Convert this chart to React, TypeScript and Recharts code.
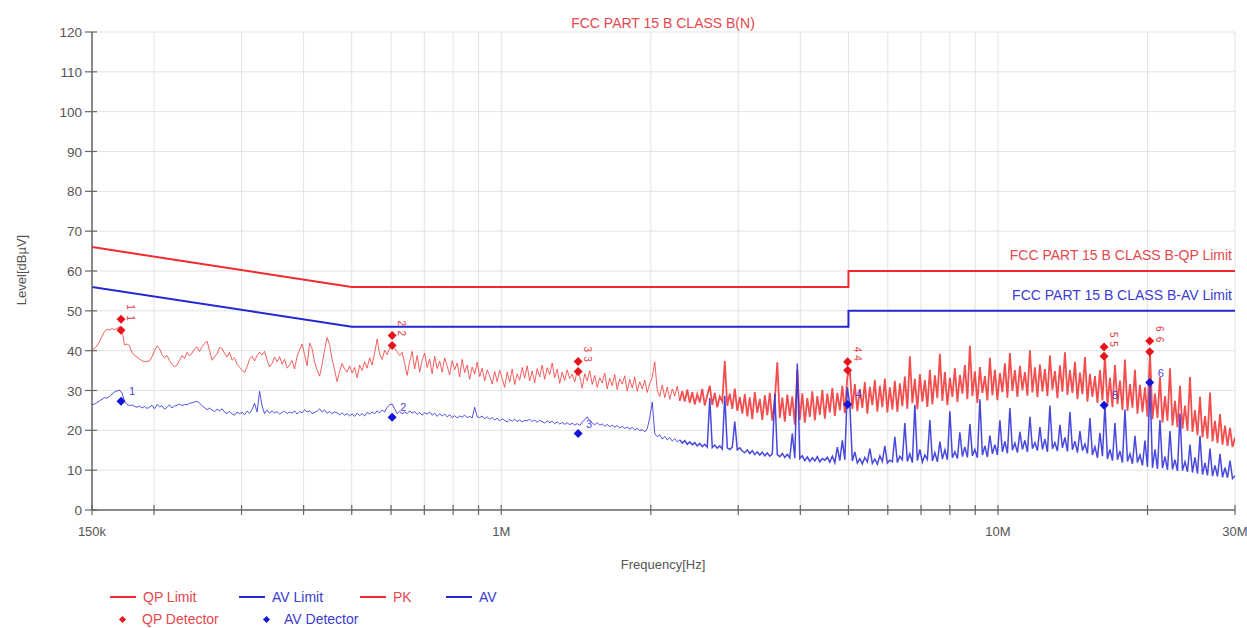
import React from 'react';
import { ComposedChart, Line, Scatter, XAxis, YAxis, CartesianGrid } from 'recharts';

// Receiver sweep settings (log sweep, one reading per step)
const START_HZ = 150e3;
const STOP_HZ = 30e6;

// Peak detector trace, dBµV, one value per sweep step
const PK_DB = [
  40.3, 40.6, 41.2, 42.3, 43.6, 44.8, 45.4, 45.2, 45.5, 45.3, 45.6, 46.0, 45.1, 41.4, 41.7, 41.2, 39.6, 38.8, 38.4, 37.9,
  37.5, 37.2, 37.3, 37.4, 38.5, 40, 41.2, 40.5, 39, 38.2, 38.8, 37.5, 36.5, 36, 36.4, 37.6, 38.8, 38, 39.6, 38.7,
  39.4, 40.5, 40.9, 39.8, 41, 41.8, 42.4, 40, 37.6, 38.5, 39.2, 40.8, 40.5, 39.3, 38.4, 39.6, 37.6, 38.2, 36.6, 35.8,
  35.2, 34.5, 36, 37.8, 38.6, 37.4, 38.8, 39.6, 38.9, 39.8, 37.6, 35.9, 36.8, 38.4, 37.2, 38.5, 36.6, 37.8, 35.6, 36.4,
  37.5, 35.4, 38.6, 40.2, 41.7, 39, 36.2, 41.9, 40.5, 37.2, 35.1, 33.6, 36.5, 40.2, 43.3, 41.5, 37.8, 35.2, 32.2, 34.8,
  36.8, 35.4, 34.6, 36.2, 34.4, 35.8, 33.2, 36.4, 35, 37.2, 35.6, 38.2, 36.4, 39.4, 42.9, 39.2, 37.8, 40.1, 39, 40.6,
  41.3, 40.6, 39.7, 38.8, 39.6, 36.8, 33.8, 37.2, 39.8, 35.4, 38.8, 34.6, 37.6, 39.4, 35.8, 37.9, 34.2, 38.6, 35.5, 37.4,
  34.6, 38.2, 36.1, 33.9, 37.5, 35.2, 36.9, 33.4, 37.8, 34.5, 36.4, 32.8, 35.9, 34.1, 37.1, 33.5, 35.6, 32.4, 35.2, 33.7,
  31.6, 34.8, 32.2, 35.1, 33, 30.8, 34.6, 32.1, 35.4, 31.5, 34.2, 32.6, 35.8, 33.1, 36.2, 32.4, 34.9, 31.9, 35.5, 33.4,
  36.4, 32.8, 35.7, 34, 36.9, 33.2, 35.4, 31.8, 34.6, 32.5, 35.2, 33, 34.1, 32.2, 34.8, 33.5, 30.6, 34.2, 32.4, 35,
  31.5, 33.8, 30.8, 33.2, 31.9, 34.4, 30.4, 33.1, 31.2, 34, 30.2, 32.9, 31.6, 33.7, 29.9, 32.8, 30.6, 33.4, 29.8, 32.2,
  30.4, 32.6, 29.5, 31.8, 33.2, 37.2, 30.1, 28.5, 31.4, 28.2, 30.9, 27.8, 30.4, 28.6, 31.1, 27.4, 29.8, 27.2, 30.2, 26.9,
  29.6, 26.5, 29.1, 27, 30.4, 26.2, 28.8, 31.2, 26.4, 29.4, 25.8, 28.5, 27.2, 37.4, 26.1, 29.2, 25.4, 30.5, 24.9, 28.4,
  24.2, 29.1, 23.5, 28.3, 22.8, 29.6, 24.4, 27.9, 22.6, 28.8, 23.8, 29.4, 22.4, 27.6, 37.1, 23.1, 28.2, 22.2, 29, 23.6,
  28.5, 21.4, 35.2, 22.6, 29.3, 21.9, 28.1, 23.4, 29.8, 22.5, 28.6, 23.9, 30.1, 22.9, 29.2, 24.5, 30.6, 23.6, 29.4, 25,
  31.2, 24.3, 33.4, 35.1, 25.4, 31.6, 24.8, 30.4, 25.6, 32.1, 24.2, 30.9, 26.3, 32.6, 24.7, 31.2, 25.8, 33, 24.5, 30.8,
  25.2, 32.4, 24.6, 31.8, 26.1, 33.5, 25.4, 38.6, 26.8, 32.9, 25.3, 34.1, 27.2, 32.6, 25.9, 35.2, 26.5, 33.8, 28.1, 39.2,
  27.4, 34.6, 26.3, 33.2, 28.4, 35.6, 27.1, 33.9, 29.2, 36.4, 27.8, 41.2, 28.6, 34.8, 26.9, 35.9, 29.4, 33.6, 27.5, 38.2,
  28.8, 35.2, 27.6, 34.4, 29.6, 36.8, 28.2, 39.4, 29.9, 35.1, 28.4, 36.2, 30.1, 34.6, 28.7, 40.1, 29.5, 35.8, 28.3, 36.5,
  29.8, 35.4, 28.6, 38.8, 30.2, 34.9, 28.1, 36.3, 29.7, 39.6, 28.9, 35.1, 29.4, 37.2, 27.8, 34.5, 29.1, 38.4, 27.2, 34.2,
  28.4, 33.6, 26.9, 35.1, 27.5, 38.6, 26.4, 33.2, 25.8, 36.4, 26.6, 32.5, 25.1, 37.8, 24.9, 31.6, 25.7, 35.2, 24.2, 31.4,
  24.6, 30.8, 23.4, 39.7, 22.8, 29.2, 23.1, 33.4, 21.9, 28.6, 22.4, 35.6, 21.2, 27.4, 20.8, 31.2, 20.4, 26.2, 19.9, 33.4,
  19.6, 25.1, 18.8, 28.4, 18.2, 23.6, 17.9, 29.5, 17.2, 22.4, 16.8, 24.1, 16.4, 21.2, 16.1, 20.6, 15.8, 18.2,
];

// Average detector trace, dBµV, same sweep steps
const AV_DB = [
  26.4, 26.6, 27, 27.4, 27.8, 28.2, 28.1, 28.5, 29.1, 29.6, 29.9, 30.1, 29.4, 27.2, 26.5, 26.2, 26.4, 26, 25.8, 26.1,
  25.6, 26, 25.5, 25.8, 26.3, 25.4, 26.5, 25.9, 26.2, 25.3, 25.8, 26.4, 25.6, 26.1, 26.3, 26.6, 26.2, 26.5, 26.4, 26.8,
  26.9, 27.1, 27.3, 26.8, 26.2, 25.7, 25.2, 25.6, 25.1, 24.7, 25.3, 24.9, 25.4, 24.6, 24.2, 24.8, 24.1, 23.8, 24.6, 24.2,
  24.5, 23.9, 24.8, 24.3, 25.2, 26.8, 24.6, 29.8, 26.1, 24.2, 25.1, 24.3, 24.9, 24.4, 24.7, 24.1, 24.5, 24.8, 24.2, 24.6,
  24.3, 24.9, 24.1, 24.7, 24.4, 25.2, 24.6, 24.9, 24.2, 24.5, 24.8, 25.4, 24.6, 25.1, 24.3, 24.7, 24.2, 24.6, 24.4, 23.9,
  24.4, 23.8, 24.2, 23.6, 24.1, 23.5, 24.3, 23.7, 24.2, 23.6, 24.5, 24.1, 24.6, 24.2, 24.9, 24.4, 25.1, 24.6, 25.8, 26.4,
  26.6, 25.4, 24.2, 24.8, 24.1, 24.6, 24.2, 24.9, 24.3, 24.7, 24, 24.5, 23.8, 24.4, 24.1, 24.6, 23.8, 24.3, 23.5, 24.2,
  23.6, 24.1, 23.4, 23.9, 23.2, 23.7, 23.1, 23.6, 23.3, 23.8, 23.2, 23.5, 23.1, 25.8, 23.4, 23.2, 23.6, 22.9, 23.4, 22.8,
  23.2, 22.6, 23, 22.4, 22.9, 22.5, 22.1, 22.7, 22.3, 22.8, 22.2, 22.6, 22.1, 22.5, 22.4, 22.8, 22.2, 22.6, 22, 22.5,
  22.2, 21.8, 22.4, 21.9, 22.3, 21.7, 22.1, 21.6, 22, 21.5, 21.9, 21.4, 21.8, 21.3, 21.7, 21.2, 22.1, 22.6, 23.4, 22.4,
  21.8, 21.4, 21.9, 21.3, 21.6, 21, 21.5, 20.9, 21.3, 20.8, 21.2, 20.6, 21, 20.5, 20.8, 20.3, 20.7, 20.1, 20.5, 19.9,
  20.2, 19.6, 20.4, 23.2, 27.1, 19.2, 18.4, 18.9, 17.8, 18.5, 17.6, 18.2, 17.3, 17.9, 17.1, 17.6, 16.8, 17.4, 16.5, 17.1,
  16.4, 16.9, 16.1, 16.7, 15.9, 16.5, 15.8, 28.1, 15.7, 16.3, 15.5, 16.1, 15.3, 28.7, 15.6, 15.2, 15.8, 22.2, 15.1, 15.6,
  14.8, 14.4, 15.1, 14.2, 14.9, 13.9, 14.6, 13.8, 14.5, 13.6, 14.3, 13.5, 14.1, 29.2, 13.9, 13.4, 14.2, 13.2, 14, 13.1,
  19.2, 13, 36.8, 12.9, 13.6, 12.4, 13.3, 12.2, 13.1, 12.3, 13.4, 12.1, 12.9, 12.5, 13.2, 12, 13.5, 11.9, 15.8, 12.4,
  17.5, 12.6, 30.8, 26.5, 12.3, 14.6, 11.8, 12.9, 11.6, 13.2, 12.1, 15.4, 11.7, 12.8, 11.5, 13.6, 12.2, 16.1, 11.8, 12.5,
  12.1, 18.4, 11.9, 13.5, 12.6, 21.8, 12.2, 14.1, 11.9, 26.4, 12.4, 15.2, 12, 13.8, 12.7, 22.6, 12.3, 14.4, 12.1, 17.2,
  12.8, 15.1, 12.6, 24.8, 13.1, 14.6, 12.9, 19.5, 13.4, 15.8, 13.2, 21.6, 13.6, 15.2, 13.1, 27.8, 13.8, 16.1, 13.3, 18.7,
  14.1, 16.4, 13.8, 22.5, 14.6, 17.2, 14.2, 25.6, 15, 16.8, 14.4, 19.6, 15.2, 17.5, 14.6, 23.4, 15.4, 16.9, 14.9, 20.8,
  15.2, 17.8, 14.6, 26.2, 15.4, 16.9, 14.8, 21.4, 15.6, 18.2, 14.7, 24.6, 15.1, 17.3, 14.4, 19.8, 14.9, 16.6, 14.2, 23.1,
  13.8, 15.9, 13.1, 19.4, 13.5, 26.4, 12.8, 15.2, 12.4, 21.8, 12.6, 14.8, 11.9, 25.2, 12.2, 14.1, 11.6, 18.6, 11.9, 13.8,
  11.2, 17.4, 10.8, 32, 10.6, 15.2, 10.3, 22.6, 10.5, 13.4, 10.1, 19.8, 10.2, 12.6, 9.8, 24.2, 9.9, 12.1, 9.6, 16.4,
  9.4, 13.2, 9.1, 18.6, 8.9, 11.8, 8.7, 15.4, 8.5, 11.2, 8.4, 14.1, 8.2, 10.6, 8.1, 12.4, 7.9, 8.6,
];

// Sweep frequencies for the readings above
const SWEEP_HZ = PK_DB.map((_, i) => START_HZ * Math.pow(STOP_HZ / START_HZ, i / (PK_DB.length - 1)));

// Sweep step where the spectrum turns into a dense band (drawn a little heavier)
const DENSE_FROM = 235;

// FCC Part 15 B class B conducted limits
const LIMIT_HZ = [150e3, 500e3, 5e6, 5e6, 30e6];
const QP_LIMIT_DB = [66, 56, 56, 60, 60];
const AV_LIMIT_DB = [56, 46, 46, 50, 50];

// Final measurement markers
const MARKER_NO = [1, 2, 3, 4, 5, 6];
const MARKER_HZ = [171.6e3, 603e3, 1.428e6, 4.98e6, 16.35e6, 20.2e6];
const PK_MARK_DB = [47.9, 43.8, 37.3, 37.2, 40.9, 42.4];
const QP_MARK_DB = [45.1, 41.3, 34.8, 35.1, 38.6, 39.7];
const AV_MARK_DB = [27.3, 23.3, 19.2, 26.5, 26.3, 32.0];

// Axis ticks
const X_TICKS = [
  150e3, 200e3, 300e3, 400e3, 500e3, 600e3, 700e3, 800e3, 900e3,
  1e6, 2e6, 3e6, 4e6, 5e6, 6e6, 7e6, 8e6, 9e6, 10e6, 20e6, 30e6,
];
const X_LABEL_HZ = [150e3, 1e6, 10e6, 30e6];
const X_LABEL_TEXT = ['150k', '1M', '10M', '30M'];
const Y_TICKS = [0, 10, 20, 30, 40, 50, 60, 70, 80, 90, 100, 110, 120];

const RED = '#ef2b2f';
const BLUE = '#2626d2';
const TRACE_RED = '#f23a3a';
const TRACE_BLUE = '#3434d8';
const AXIS = '#666666';
const FONT = '"Liberation Sans", Arial, sans-serif';

const pkData = SWEEP_HZ.map((f, i) => ({ f, v: PK_DB[i] }));
const avData = SWEEP_HZ.map((f, i) => ({ f, v: AV_DB[i] }));
const pkLow = pkData.slice(0, DENSE_FROM + 1);
const pkHigh = pkData.slice(DENSE_FROM);
const avLow = avData.slice(0, DENSE_FROM + 1);
const avHigh = avData.slice(DENSE_FROM);
const qpLimitData = LIMIT_HZ.map((f, i) => ({ f, v: QP_LIMIT_DB[i] }));
const avLimitData = LIMIT_HZ.map((f, i) => ({ f, v: AV_LIMIT_DB[i] }));
const redMarks = MARKER_HZ.flatMap((f, i) => [
  { f, v: PK_MARK_DB[i], n: MARKER_NO[i] },
  { f, v: QP_MARK_DB[i], n: MARKER_NO[i] },
]);
const blueMarks = MARKER_HZ.map((f, i) => ({ f, v: AV_MARK_DB[i], n: MARKER_NO[i] }));

const XTick = (props: any) => {
  const { x, y, payload } = props;
  const k = X_LABEL_HZ.indexOf(payload.value);
  return (
    <g>
      <line x1={x} x2={x} y1={y - 5} y2={y + 5} stroke={AXIS} strokeWidth={1.2} />
      {k >= 0 ? (
        <text x={x} y={y + 26} textAnchor="middle" fontSize={13} fill="#555" fontFamily={FONT}>
          {X_LABEL_TEXT[k]}
        </text>
      ) : null}
    </g>
  );
};

const YTick = (props: any) => {
  const { x, y, payload } = props;
  return (
    <g>
      <line x1={x - 7} x2={x + 5} y1={y} y2={y} stroke={AXIS} strokeWidth={1.2} />
      <text x={x - 10} y={y + 5} textAnchor="end" fontSize={13.5} fill="#555" fontFamily={FONT}>
        {payload.value}
      </text>
    </g>
  );
};

// Red detector diamonds; the marker number is written top-to-bottom beside each one
const RedMark = (props: any) => {
  const { cx, cy, payload } = props;
  if (cx == null || cy == null) return null;
  const s = 4.5;
  const lx = cx + 6;
  const ly = cy - 15;
  return (
    <g>
      <polygon points={`${cx},${cy - s} ${cx + s},${cy} ${cx},${cy + s} ${cx - s},${cy}`} fill="#e8141c" />
      <text x={lx} y={ly} fontSize={10} fill="#e04040" fontFamily={FONT} transform={`rotate(90 ${lx} ${ly})`}>
        {payload.n}
      </text>
    </g>
  );
};

const BlueMark = (props: any) => {
  const { cx, cy, payload } = props;
  if (cx == null || cy == null) return null;
  const s = 4.5;
  return (
    <g>
      <polygon points={`${cx},${cy - s} ${cx + s},${cy} ${cx},${cy + s} ${cx - s},${cy}`} fill="#1414d8" />
      <text x={cx + 8} y={cy - 6} fontSize={11} fill="#4a4ad8" fontFamily={FONT}>
        {payload.n}
      </text>
    </g>
  );
};

const abs = (left: number, top: number, extra: React.CSSProperties = {}): React.CSSProperties => ({
  position: 'absolute',
  left,
  top,
  whiteSpace: 'nowrap',
  fontFamily: FONT,
  lineHeight: 1,
  ...extra,
});

const LegendLine = ({ x, y, color }: { x: number; y: number; color: string }) => (
  <div style={abs(x, y, { width: 26, height: 0, borderTop: `2px solid ${color}` })} />
);

const LegendDot = ({ x, y, color }: { x: number; y: number; color: string }) => (
  <div style={abs(x - 2.5, y - 2.5, { width: 5, height: 5, background: color, transform: 'rotate(45deg)' })} />
);

export default function App() {
  return (
    <div style={{ position: 'absolute', left: 0, top: 0, width: 1247, height: 628, background: '#fff' }}>
      <ComposedChart
        width={1247}
        height={628}
        margin={{ top: 32, right: 12, bottom: 88, left: 32 }}
      >
        <CartesianGrid stroke="#e3e3e3" strokeWidth={1} />
        <XAxis
          dataKey="f"
          type="number"
          scale="log"
          domain={[START_HZ, STOP_HZ]}
          allowDataOverflow
          ticks={X_TICKS}
          interval={0}
          height={30}
          tickSize={0}
          tickMargin={0}
          tickLine={false}
          tick={<XTick />}
          axisLine={{ stroke: AXIS, strokeWidth: 1.5 }}
        />
        <YAxis
          type="number"
          domain={[0, 120]}
          ticks={Y_TICKS}
          interval={0}
          width={60}
          tickSize={0}
          tickMargin={0}
          tickLine={false}
          tick={<YTick />}
          axisLine={{ stroke: AXIS, strokeWidth: 1.5 }}
        />
        <Line data={pkLow} dataKey="v" stroke={TRACE_RED} strokeWidth={1} dot={false} isAnimationActive={false} strokeOpacity={0.8} />
        <Line data={pkHigh} dataKey="v" stroke={TRACE_RED} strokeWidth={1.8} dot={false} isAnimationActive={false} strokeOpacity={0.9} strokeLinejoin="miter" />
        <Line data={avLow} dataKey="v" stroke={TRACE_BLUE} strokeWidth={1} dot={false} isAnimationActive={false} strokeOpacity={0.85} />
        <Line data={avHigh} dataKey="v" stroke={TRACE_BLUE} strokeWidth={1.5} dot={false} isAnimationActive={false} strokeOpacity={0.9} strokeLinejoin="miter" />
        <Line data={qpLimitData} dataKey="v" stroke={RED} strokeWidth={2} dot={false} isAnimationActive={false} />
        <Line data={avLimitData} dataKey="v" stroke={BLUE} strokeWidth={2} dot={false} isAnimationActive={false} />
        <Scatter data={redMarks} dataKey="v" shape={<RedMark />} isAnimationActive={false} />
        <Scatter data={blueMarks} dataKey="v" shape={<BlueMark />} isAnimationActive={false} />
      </ComposedChart>

      <div style={abs(663, 16, { transform: 'translateX(-50%)', fontSize: 14, color: '#e5484d' })}>
        FCC PART 15 B CLASS B(N)
      </div>
      <div style={abs(1232, 248, { transform: 'translateX(-100%)', fontSize: 14, color: '#e5484d' })}>
        FCC PART 15 B CLASS B-QP Limit
      </div>
      <div style={abs(1232, 288, { transform: 'translateX(-100%)', fontSize: 14, color: '#3c3cd0' })}>
        FCC PART 15 B CLASS B-AV Limit
      </div>
      <div style={abs(21, 270, { transform: 'translate(-50%, -50%) rotate(-90deg)', fontSize: 13, color: '#555' })}>
        Level[dBµV]
      </div>
      <div style={abs(663, 558, { transform: 'translateX(-50%)', fontSize: 13, color: '#555' })}>
        Frequency[Hz]
      </div>

      <LegendLine x={110} y={596} color={RED} />
      <div style={abs(143, 590, { fontSize: 14, color: '#e5484d' })}>QP Limit</div>
      <LegendLine x={239} y={596} color={BLUE} />
      <div style={abs(272, 590, { fontSize: 14, color: '#3c3cd0' })}>AV Limit</div>
      <LegendLine x={360} y={596} color={RED} />
      <div style={abs(393, 590, { fontSize: 14, color: '#e5484d' })}>PK</div>
      <LegendLine x={446} y={596} color={BLUE} />
      <div style={abs(479, 590, { fontSize: 14, color: '#3c3cd0' })}>AV</div>
      <LegendDot x={122} y={619} color="#e8141c" />
      <div style={abs(142, 612, { fontSize: 14, color: '#e5484d' })}>QP Detector</div>
      <LegendDot x={266} y={619} color="#1414d8" />
      <div style={abs(284, 612, { fontSize: 14, color: '#3c3cd0' })}>AV Detector</div>
    </div>
  );
}
